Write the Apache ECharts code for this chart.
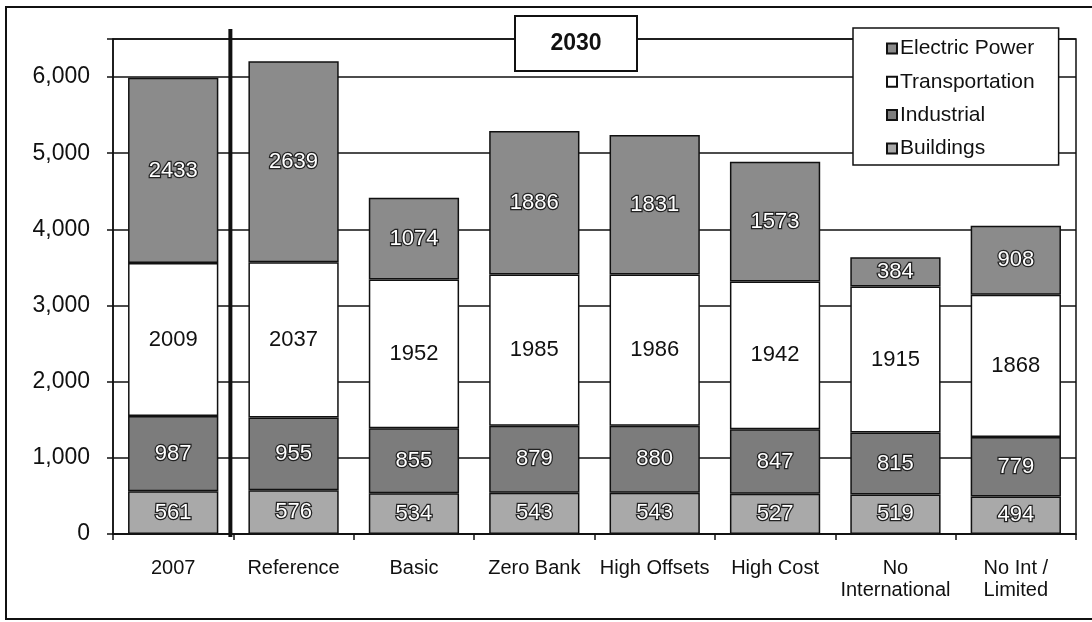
<!DOCTYPE html>
<html>
<head>
<meta charset="utf-8">
<script src="https://cdn.jsdelivr.net/npm/echarts@6/dist/echarts.min.js"></script>
<style>
html,body{margin:0;padding:0;background:#fff;}
#chart{width:1092px;height:622px;}
</style>
</head>
<body>
<div id="chart"></div>
<script>
const categories = ['2007', 'Reference', 'Basic', 'Zero Bank', 'High Offsets', 'High Cost', 'No\nInternational', 'No Int /\nLimited'];
const buildings = [561, 576, 534, 543, 543, 527, 519, 494];
const industrial = [987, 955, 855, 879, 880, 847, 815, 779];
const transportation = [2009, 2037, 1952, 1985, 1986, 1942, 1915, 1868];
const electricPower = [2433, 2639, 1074, 1886, 1831, 1573, 384, 908];
const legendOrder = ['Electric Power', 'Transportation', 'Industrial', 'Buildings'];
const yMax = 6500;
const yInterval = 1000;
const boxTitle = '2030';

const FONT = '"Liberation Sans", Arial, sans-serif';
const chart = echarts.init(document.getElementById('chart'), null, {renderer: 'canvas'});

function whiteLabel() {
  return {
    show: true, position: 'inside', color: '#fff', fontFamily: FONT, fontSize: 22,
    textBorderColor: '#222', textBorderWidth: 2.5
  };
}
function seriesOf(name, data, color, label) {
  return {
    name: name, type: 'bar', stack: 'total', data: data,
    barCategoryGap: '25%',
    itemStyle: {color: color, borderColor: '#111', borderWidth: 1.5},
    label: label,
    emphasis: {disabled: true}
  };
}

const option = {
  animation: false,
  backgroundColor: '#fff',
  grid: {left: 113, top: 39, right: 16, bottom: 88, show: true, borderColor: '#111', borderWidth: 1.5, backgroundColor: 'transparent'},
  legend: {
    orient: 'vertical', left: 853, top: 28,
    padding: [10, 24, 6, 33], itemGap: 12.3, itemWidth: 10, itemHeight: 10,
    icon: 'rect',
    backgroundColor: '#fff', borderColor: '#111', borderWidth: 1.5,
    textStyle: {fontFamily: FONT, fontSize: 21, lineHeight: 21, color: '#111', padding: [0, 0, 0, -2]},
    data: legendOrder,
    selectedMode: false
  },
  xAxis: {
    type: 'category', data: categories,
    axisLine: {lineStyle: {color: '#111', width: 1.5}},
    axisTick: {show: true, length: 6, lineStyle: {color: '#111', width: 1.5}},
    axisLabel: {fontFamily: FONT, fontSize: 20, color: '#111', margin: 23, lineHeight: 22, interval: 0}
  },
  yAxis: {
    type: 'value', min: 0, max: yMax, interval: yInterval,
    axisLine: {show: true, lineStyle: {color: '#111', width: 1.5}},
    axisTick: {show: true, length: 6, lineStyle: {color: '#111', width: 1.5}},
    splitLine: {lineStyle: {color: '#111', width: 1.5}},
    axisLabel: {
      fontFamily: FONT, fontSize: 23, color: '#111', margin: 23,
      formatter: function (v) { return v % yInterval === 0 ? v.toLocaleString('en-US') : ''; }
    }
  },
  series: [
    seriesOf('Buildings', buildings, '#a9a9a9', whiteLabel()),
    seriesOf('Industrial', industrial, '#7c7c7c', whiteLabel()),
    seriesOf('Transportation', transportation, '#ffffff', {show: true, position: 'inside', color: '#111', fontFamily: FONT, fontSize: 22}),
    seriesOf('Electric Power', electricPower, '#8b8b8b', whiteLabel())
  ]
};
chart.setOption(option);

// divider between 2007 and the 2030 scenarios, plus the title box and outer frame
const x0 = chart.convertToPixel({xAxisIndex: 0}, 0);
const x1 = chart.convertToPixel({xAxisIndex: 0}, 1);
const yZero = chart.convertToPixel({yAxisIndex: 0}, 0);
const divX = (x0 + x1) / 2 - 3;
chart.setOption({
  graphic: [
    {type: 'rect', shape: {x: 6, y: 7, width: 1100, height: 612}, style: {fill: 'none', stroke: '#111', lineWidth: 2}, silent: true, z: 100},
    {type: 'line', shape: {x1: divX, y1: 29, x2: divX, y2: yZero + 3}, style: {stroke: '#111', lineWidth: 4}, silent: true, z: 100},
    {type: 'rect', shape: {x: 515, y: 16, width: 122, height: 55}, style: {fill: '#fff', stroke: '#111', lineWidth: 2}, silent: true, z: 100},
    {type: 'text', x: 576, y: 44, style: {text: boxTitle, fontFamily: FONT, fontSize: 23, fontWeight: 'bold', fill: '#111', align: 'center', verticalAlign: 'middle'}, silent: true, z: 101}
  ]
});
</script>
</body>
</html>
